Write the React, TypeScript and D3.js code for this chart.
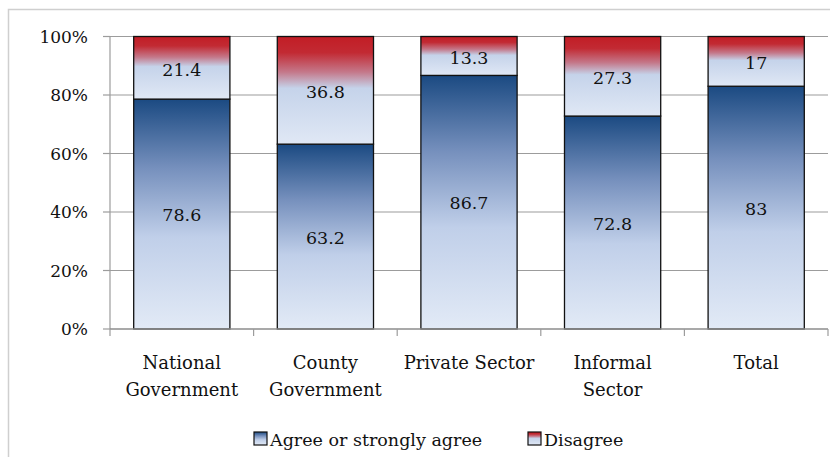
import React, { useRef, useEffect } from 'react';
import * as d3 from 'd3';

const categories = ["National Government", "County Government", "Private Sector", "Informal Sector", "Total"];
const categoryLines = [["National", "Government"], ["County", "Government"], ["Private Sector"], ["Informal", "Sector"], ["Total"]];
const agree = [78.6, 63.2, 86.7, 72.8, 83];
const disagree = [21.4, 36.8, 13.3, 27.3, 17];
const yTicks = [0, 20, 40, 60, 80, 100];
const seriesNames = ["Agree or strongly agree", "Disagree"];

function App() {
    const ref = useRef(null);

    useEffect(() => {
        const width = 830;
        const height = 457;
        const margin = { top: 36.5, right: 2, bottom: 128, left: 110 };
        const font = "'DejaVu Serif', Georgia, serif";

        const svg = d3.select(ref.current);
        svg.selectAll("*").remove();

        const defs = svg.append("defs");
        const blue = defs.append("linearGradient").attr("id", "gAgree")
            .attr("x1", 0).attr("y1", 0).attr("x2", 0).attr("y2", 1);
        [[0, "#1b4a82"], [0.3, "#7690bd"], [0.6, "#c0cfe9"], [1, "#e2eaf6"]].forEach(([o, c]) => {
            blue.append("stop").attr("offset", o).attr("stop-color", c);
        });
        const red = defs.append("linearGradient").attr("id", "gDisagree")
            .attr("x1", 0).attr("y1", 0).attr("x2", 0).attr("y2", 1);
        [[0, "#c21d25"], [0.15, "#c22a33"], [0.33, "#c4788a"], [0.48, "#c5d3ea"], [1, "#e0e8f5"]].forEach(([o, c]) => {
            red.append("stop").attr("offset", o).attr("stop-color", c);
        });

        // outer chart border (cut off at right/bottom like the original)
        svg.append("rect")
            .attr("x", 8.5).attr("y", 9.5)
            .attr("width", 840).attr("height", 470)
            .attr("fill", "#fff")
            .attr("stroke", "#cfcfcf")
            .attr("stroke-width", 1.5);

        const x = d3.scaleBand()
            .domain(categories)
            .range([margin.left, width - margin.right])
            .paddingInner(0.33)
            .paddingOuter(0.165);

        const y = d3.scaleLinear()
            .domain([0, 100])
            .range([height - margin.bottom, margin.top]);

        const g = svg.append("g");

        // gridlines
        g.selectAll(".grid")
            .data(yTicks.filter(d => d > 0))
            .enter().append("line")
            .attr("x1", margin.left).attr("x2", width - margin.right)
            .attr("y1", d => y(d)).attr("y2", d => y(d))
            .attr("stroke", "#9c9c9c").attr("stroke-width", 1.2);

        // y axis
        g.append("line")
            .attr("x1", margin.left).attr("x2", margin.left)
            .attr("y1", y(0)).attr("y2", y(100))
            .attr("stroke", "#9c9c9c").attr("stroke-width", 1.2);
        g.selectAll(".ytick")
            .data(yTicks)
            .enter().append("line")
            .attr("x1", margin.left - 7).attr("x2", margin.left)
            .attr("y1", d => y(d)).attr("y2", d => y(d))
            .attr("stroke", "#9c9c9c").attr("stroke-width", 1.2);
        g.selectAll(".ylabel")
            .data(yTicks)
            .enter().append("text")
            .attr("x", 88)
            .attr("y", d => y(d))
            .attr("dy", "0.36em")
            .attr("text-anchor", "end")
            .style("font-family", font)
            .style("font-size", "17px")
            .attr("fill", "#111")
            .text(d => d + "%");

        // bars
        const bw = x.bandwidth();
        categories.forEach((c, i) => {
            const a = agree[i];
            const d = disagree[i];
            const top = Math.min(100, a + d);
            g.append("rect")
                .attr("x", x(c)).attr("y", y(a))
                .attr("width", bw).attr("height", y(0) - y(a))
                .attr("fill", "url(#gAgree)")
                .attr("stroke", "#111").attr("stroke-width", 1.3);
            g.append("rect")
                .attr("x", x(c)).attr("y", y(top))
                .attr("width", bw).attr("height", y(a) - y(top))
                .attr("fill", "url(#gDisagree)")
                .attr("stroke", "#111").attr("stroke-width", 1.3);
            g.append("text")
                .attr("x", x(c) + bw / 2)
                .attr("y", (y(0) + y(a)) / 2)
                .attr("dy", "0.4em")
                .attr("text-anchor", "middle")
                .style("font-family", font).style("font-size", "17.5px")
                .attr("fill", "#111")
                .text(a);
            g.append("text")
                .attr("x", x(c) + bw / 2)
                .attr("y", (y(a) + y(top)) / 2)
                .attr("dy", "0.45em")
                .attr("text-anchor", "middle")
                .style("font-family", font).style("font-size", "17.5px")
                .attr("fill", "#111")
                .text(d);
        });

        // x axis
        g.append("line")
            .attr("x1", margin.left).attr("x2", width - margin.right)
            .attr("y1", y(0)).attr("y2", y(0))
            .attr("stroke", "#8c8c8c").attr("stroke-width", 1.6);
        d3.range(categories.length + 1).forEach(k => {
            const xx = margin.left + k * (width - margin.right - margin.left) / categories.length;
            g.append("line")
                .attr("x1", xx).attr("x2", xx)
                .attr("y1", y(0)).attr("y2", y(0) + 7)
                .attr("stroke", "#9c9c9c").attr("stroke-width", 1.2);
        });
        categories.forEach((c, i) => {
            const t = g.append("text")
                .attr("text-anchor", "middle")
                .style("font-family", font).style("font-size", "18px")
                .attr("fill", "#111");
            categoryLines[i].forEach((line, j) => {
                t.append("tspan")
                    .attr("x", x(c) + bw / 2)
                    .attr("y", 369 + j * 27)
                    .text(line);
            });
        });

        // legend
        const legend = g.append("g");
        const lx = [254, 528];
        seriesNames.forEach((name, i) => {
            legend.append("rect")
                .attr("x", lx[i]).attr("y", 432)
                .attr("width", 13).attr("height", 13)
                .attr("fill", i === 0 ? "url(#gAgree)" : "url(#gDisagree)")
                .attr("stroke", "#111").attr("stroke-width", 1.2);
            legend.append("text")
                .attr("x", lx[i] + 16).attr("y", 445.5)
                .style("font-family", font).style("font-size", "17.5px")
                .attr("fill", "#111")
                .text(name);
        });
    }, []);

    return (
        <svg ref={ref} width={830} height={457}
            style={{ position: "absolute", left: 0, top: 0, background: "#fff" }} />
    );
}

export default App;
